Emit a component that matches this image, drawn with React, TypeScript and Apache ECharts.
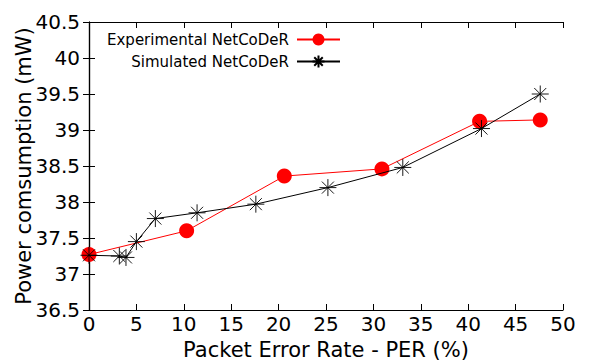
import React, { useEffect, useRef } from "react";
import * as echarts from "echarts";

const expX = [0, 10.3, 20.6, 30.9, 41.2, 47.6];
const expY = [37.27, 37.6, 38.36, 38.46, 39.12, 39.14];
const simX = [0, 3.2, 3.9, 5.0, 7.0, 11.4, 17.6, 25.2, 33.1, 41.4, 47.6];
const simY = [37.26, 37.25, 37.23, 37.45, 37.77, 37.85, 37.97, 38.2, 38.48, 39.02, 39.5];
const seriesNames = ["Experimental NetCoDeR", "Simulated NetCoDeR"];
const xTitle = "Packet Error Rate - PER (%)";
const yTitle = "Power comsumption (mW)";

const star = "path://M0,-1L0,1M-1,0L1,0M-0.707,-0.707L0.707,0.707M-0.707,0.707L0.707,-0.707";
const font = "DejaVu Sans";

export default function App() {
  const ref = useRef<HTMLDivElement>(null);
  useEffect(() => {
    const chart = echarts.init(ref.current!, null, { renderer: "svg" });
    const tick = { show: true, inside: true, length: 6, lineStyle: { color: "#000", width: 1 } };
    const axisLine = { show: true, lineStyle: { color: "#000", width: 1.2 } };
    chart.setOption({
      animation: false,
      grid: { left: 89, right: 34, top: 22, bottom: 50, containLabel: false, outerBoundsMode: "none" },
      legend: {
        orient: "vertical",
        align: "right",
        right: 256,
        top: 32,
        padding: 0,
        itemWidth: 43,
        itemHeight: 15,
        itemGap: 7,
        textStyle: { fontFamily: font, fontSize: 15, color: "#000", padding: [0, 3, 0, 0] },
        data: seriesNames,
      },
      xAxis: [
        {
          type: "value", min: 0, max: 50, interval: 5,
          name: xTitle, nameLocation: "middle", nameGap: 29, nameMoveOverlap: false,
          nameTextStyle: { fontFamily: font, fontSize: 21, color: "#000" },
          axisLine, axisTick: tick, splitLine: { show: false },
          axisLabel: { fontFamily: font, fontSize: 20, color: "#000", margin: 4 },
        },
        {
          type: "value", min: 0, max: 50, interval: 5, position: "top",
          axisLine, axisTick: tick, splitLine: { show: false }, axisLabel: { show: false },
        },
      ],
      yAxis: [
        {
          type: "value", min: 36.5, max: 40.5, interval: 0.5,
          name: yTitle, nameLocation: "middle", nameGap: 55, nameMoveOverlap: false,
          nameTextStyle: { fontFamily: font, fontSize: 21, color: "#000" },
          axisLine, axisTick: tick, splitLine: { show: false },
          axisLabel: { fontFamily: font, fontSize: 20, color: "#000", margin: 9 },
        },
        {
          type: "value", min: 36.5, max: 40.5, interval: 0.5, position: "right",
          axisLine, axisTick: tick, splitLine: { show: false }, axisLabel: { show: false },
        },
      ],
      series: [
        {
          name: seriesNames[0], type: "line",
          data: expX.map((x, i) => [x, expY[i]]),
          symbol: "circle", symbolSize: 15,
          lineStyle: { color: "#ff0000", width: 1 },
          itemStyle: { color: "#ff0000" },
          z: 2,
        },
        {
          name: seriesNames[1], type: "line",
          data: simX.map((x, i) => [x, simY[i]]),
          symbol: star, symbolSize: 17,
          lineStyle: { color: "#000", width: 1 },
          itemStyle: { color: "#000", borderColor: "#000", borderWidth: 0.9 },
          z: 3,
        },
      ],
    });
    return () => chart.dispose();
  }, []);
  return <div ref={ref} style={{ width: 597, height: 360, position: "absolute", left: 0, top: 0 }} />;
}
